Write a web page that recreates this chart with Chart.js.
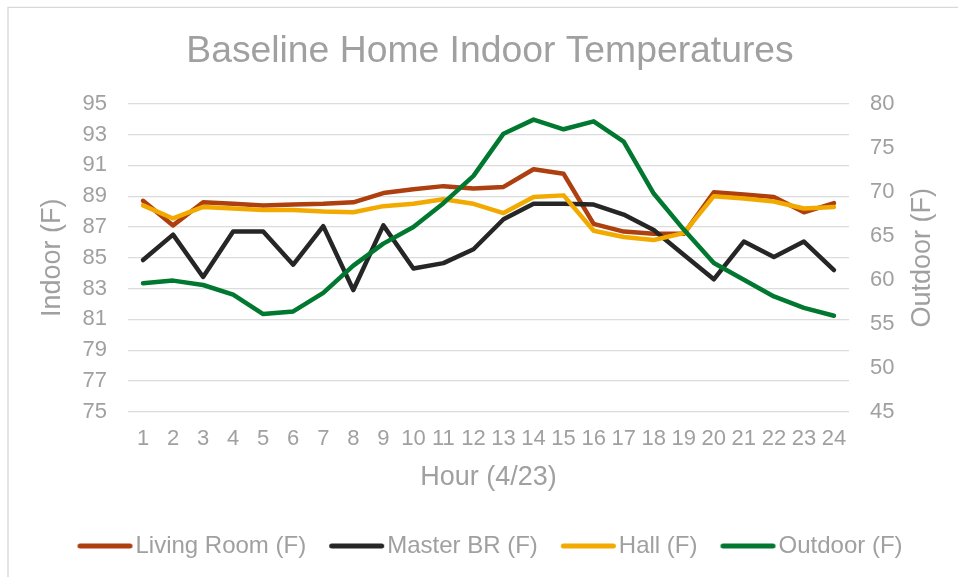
<!DOCTYPE html>
<html>
<head>
<meta charset="utf-8">
<script src="https://cdn.jsdelivr.net/npm/chart.js@4/dist/chart.umd.min.js"></script>
<style>
  html, body { margin: 0; padding: 0; background: #ffffff; overflow: hidden; }
  #wrap { position: relative; width: 958px; height: 577px; }
</style>
</head>
<body>
<div id="wrap"><canvas id="c" width="958" height="577"></canvas></div>
<script>
const hours = ['1','2','3','4','5','6','7','8','9','10','11','12','13','14','15','16','17','18','19','20','21','22','23','24'];
const livingRoom = [88.7, 87.1, 88.6, 88.5, 88.4, 88.45, 88.5, 88.6, 89.2, 89.45, 89.65, 89.5, 89.6, 90.75, 90.45, 87.2, 86.7, 86.55, 86.55, 89.25, 89.1, 88.95, 87.95, 88.55];
const masterBR   = [84.85, 86.5, 83.75, 86.7, 86.7, 84.55, 87.05, 82.9, 87.1, 84.3, 84.65, 85.55, 87.5, 88.5, 88.5, 88.45, 87.8, 86.8, 85.2, 83.6, 86.05, 85.05, 86.05, 84.2];
const hall       = [88.4, 87.55, 88.3, 88.2, 88.1, 88.1, 88.0, 87.95, 88.35, 88.5, 88.8, 88.5, 87.9, 88.95, 89.05, 86.75, 86.35, 86.15, 86.6, 89.0, 88.85, 88.65, 88.2, 88.3];
const outdoor    = [59.6, 59.9, 59.4, 58.3, 56.1, 56.4, 58.5, 61.6, 64.1, 66.0, 68.7, 71.8, 76.6, 78.2, 77.1, 78.0, 75.7, 69.8, 65.7, 61.9, 60.0, 58.1, 56.8, 55.9];
const seriesNames = ['Living Room (F)', 'Master BR (F)', 'Hall (F)', 'Outdoor (F)'];
const seriesColors = ['#ae3f0f', '#262626', '#f2aa00', '#00782f'];
const rightAxisTitle = 'Outdoor (F)';

const TEXT = '#a0a0a0';
const FONT = "'Liberation Sans', Arial, sans-serif";

function makeMarker(color) {
  const c = document.createElement('canvas');
  c.width = 68; c.height = 10;
  const g = c.getContext('2d');
  g.strokeStyle = color; g.lineWidth = 5; g.lineCap = 'round';
  g.beginPath(); g.moveTo(13.5, 5); g.lineTo(63.5, 5); g.stroke();
  return c;
}
const markers = seriesColors.map(makeMarker);

const framePlugin = {
  id: 'frame',
  beforeDraw(chart) {
    const ctx = chart.ctx;
    ctx.save();
    ctx.fillStyle = '#ffffff';
    ctx.fillRect(0, 0, chart.width, chart.height);
    ctx.strokeStyle = '#d9d9d9';
    ctx.lineWidth = 1.4;
    ctx.beginPath();
    ctx.moveTo(8, chart.height + 2);
    ctx.lineTo(8, 7.4);
    ctx.lineTo(chart.width + 2, 7.4);
    ctx.stroke();
    ctx.restore();
  },
  afterDraw(chart) {
    // right axis title, reading bottom-to-top like the left one
    const ctx = chart.ctx;
    const s = chart.scales.y1;
    ctx.save();
    ctx.translate(922.5, (s.top + s.bottom) / 2);
    ctx.rotate(-Math.PI / 2);
    ctx.fillStyle = TEXT;
    ctx.font = '27px ' + FONT;
    ctx.textAlign = 'center';
    ctx.textBaseline = 'middle';
    ctx.fillText(rightAxisTitle, 0, 0);
    ctx.restore();
  }
};

function ds(label, data, color, axis, order) {
  return {
    label, data, yAxisID: axis, order,
    borderColor: color, backgroundColor: color,
    borderWidth: 4.5, pointRadius: 0, pointHoverRadius: 0,
    tension: 0, fill: false,
    borderCapStyle: 'round', borderJoinStyle: 'round'
  };
}

new Chart(document.getElementById('c'), {
  type: 'line',
  data: {
    labels: hours,
    datasets: [
      ds(seriesNames[0], livingRoom, seriesColors[0], 'y', 4),
      ds(seriesNames[1], masterBR, seriesColors[1], 'y', 3),
      ds(seriesNames[2], hall, seriesColors[2], 'y', 2),
      ds(seriesNames[3], outdoor, seriesColors[3], 'y1', 1)
    ]
  },
  options: {
    responsive: false,
    animation: false,
    events: [],
    layout: { padding: { left: 22, right: 0, top: 0, bottom: 9 } },
    plugins: {
      tooltip: { enabled: false },
      title: {
        display: true,
        text: 'Baseline Home Indoor Temperatures',
        color: TEXT,
        font: { family: FONT, size: 37.3, weight: 'normal' },
        padding: { top: 29.8, bottom: 29.2 }
      },
      legend: {
        display: true,
        position: 'bottom',
        labels: {
          color: TEXT,
          font: { family: FONT, size: 24 },
          usePointStyle: true,
          pointStyleWidth: 46,
          padding: 23,
          sort: (a, b) => a.datasetIndex - b.datasetIndex,
          generateLabels(chart) {
            const items = Chart.defaults.plugins.legend.labels.generateLabels(chart);
            items.forEach(it => { it.pointStyle = markers[it.datasetIndex]; });
            return items;
          }
        }
      }
    },
    scales: {
      x: {
        type: 'category',
        offset: true,
        grid: { display: false, drawTicks: false },
        border: { display: false },
        ticks: { color: TEXT, font: { family: FONT, size: 22 }, padding: 13.6, autoSkip: false, maxRotation: 0, minRotation: 0 },
        title: { display: true, text: 'Hour (4/23)', color: TEXT, font: { family: FONT, size: 27 }, padding: { top: 0, bottom: 16.8 } },
        afterFit(scale) { scale.height = 99.3; }
      },
      y: {
        position: 'left',
        min: 75, max: 95,
        grid: { color: '#dcdcdc', lineWidth: 1.2, drawTicks: false },
        border: { display: false },
        ticks: { stepSize: 2, color: TEXT, font: { family: FONT, size: 22 }, padding: 21 },
        title: { display: true, text: 'Indoor (F)', color: TEXT, font: { family: FONT, size: 27 }, padding: { top: 14, bottom: 0 } },
        afterFit(scale) { scale.width = 106; }
      },
      y1: {
        position: 'right',
        min: 45, max: 80,
        grid: { display: false, drawTicks: false },
        border: { display: false },
        ticks: { stepSize: 5, color: TEXT, font: { family: FONT, size: 22 }, padding: 21 },
        title: { display: false },
        afterFit(scale) { scale.width = 109; }
      }
    }
  },
  plugins: [framePlugin]
});
</script>
</body>
</html>
